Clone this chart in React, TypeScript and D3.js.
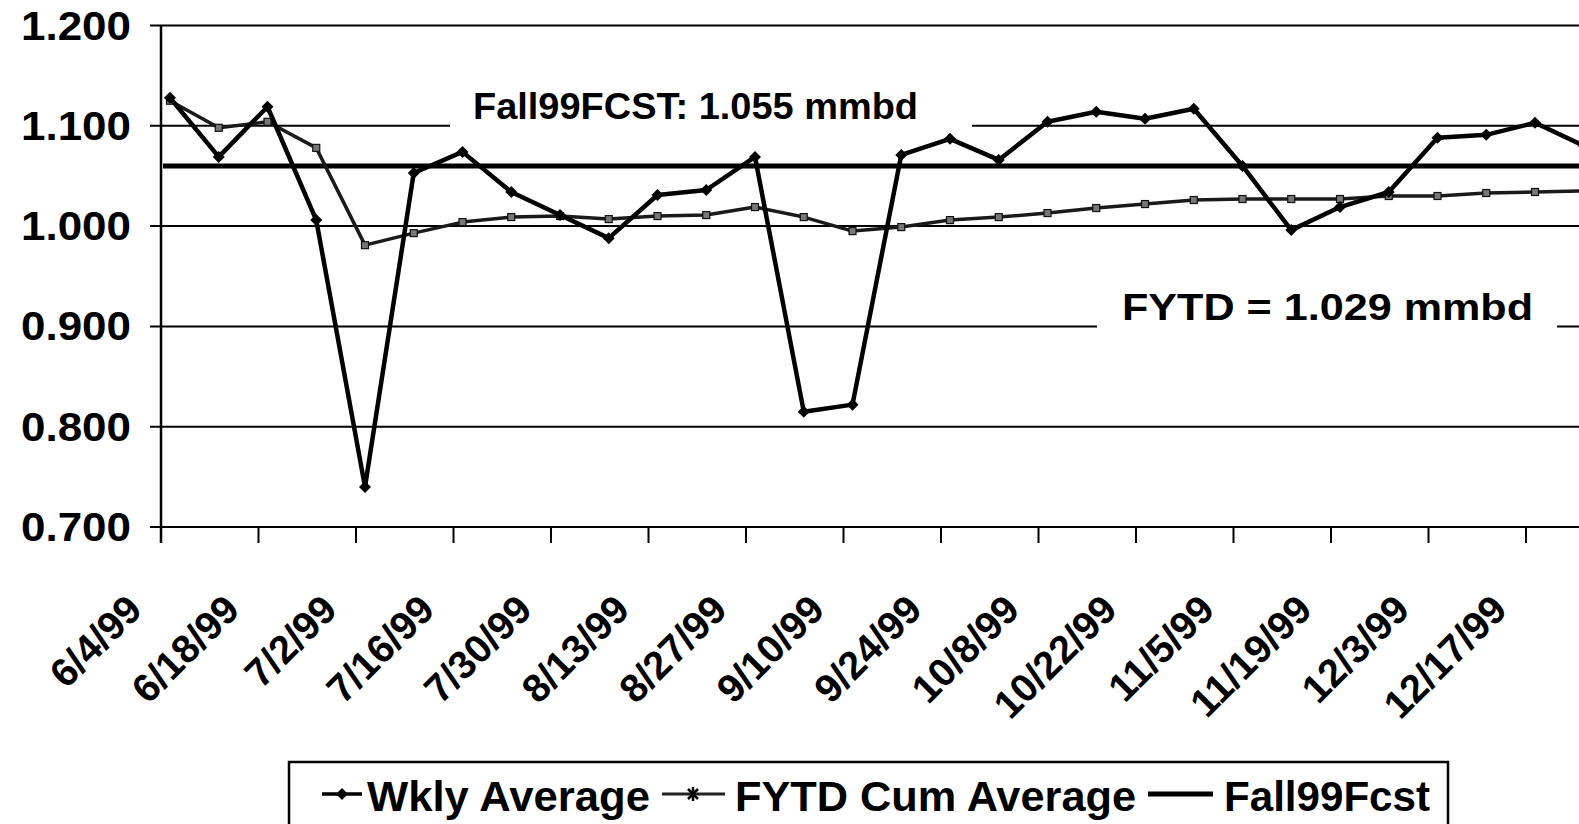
import React from "react";
import * as d3 from "d3";

const weeks = [
  "6/4/99", "6/11/99", "6/18/99", "6/25/99", "7/2/99", "7/9/99", "7/16/99", "7/23/99",
  "7/30/99", "8/6/99", "8/13/99", "8/20/99", "8/27/99", "9/3/99", "9/10/99", "9/17/99",
  "9/24/99", "10/1/99", "10/8/99", "10/15/99", "10/22/99", "10/29/99", "11/5/99", "11/12/99",
  "11/19/99", "11/26/99", "12/3/99", "12/10/99", "12/17/99", "12/24/99",
];
const tickLabels = weeks.filter((_, i) => i % 2 === 0);

const wklyAverage = [
  1.128, 1.069, 1.119, 1.006, 0.740, 1.053, 1.074, 1.034,
  1.011, 0.988, 1.031, 1.036, 1.069, 0.815, 0.822, 1.071,
  1.087, 1.066, 1.104, 1.114, 1.107, 1.117, 1.060, 0.996,
  1.019, 1.034, 1.088, 1.091, 1.103, 1.080,
];
const fytdCumAverage = [
  1.125, 1.098, 1.104, 1.078, 0.981, 0.993, 1.004, 1.009,
  1.010, 1.007, 1.010, 1.011, 1.019, 1.009, 0.995, 0.999,
  1.006, 1.009, 1.013, 1.018, 1.022, 1.026, 1.027, 1.027,
  1.027, 1.030, 1.030, 1.033, 1.034, 1.035,
];
const fall99Fcst = 1.06;
const yTicks = [0.7, 0.8, 0.9, 1.0, 1.1, 1.2];
const legendItems = ["Wkly Average", "FYTD Cum Average", "Fall99Fcst"];
const noteFcst = "Fall99FCST: 1.055 mmbd";
const noteFytd = "FYTD = 1.029 mmbd";

const FONT = "'Liberation Sans', Arial, Helvetica, sans-serif";

export default function App() {
  const W = 1579;
  const H = 824;
  const x = d3.scalePoint<string>().domain(weeks).range([170, 170 + 29 * 48.75]);
  const y = d3.scaleLinear().domain([0.7, 1.2]).range([527, 25.5]);
  const axisX = 161;
  const tickShift = -9;
  const fmt = d3.format(".3f");

  const line = d3
    .line<number>()
    .x((_, i) => x(weeks[i]) as number)
    .y((d) => y(d));

  const diamond = (cx: number, cy: number, r: number) =>
    `M${cx},${cy - r}L${cx + r},${cy}L${cx},${cy + r}L${cx - r},${cy}Z`;

  return (
    <svg
      width={W}
      height={H}
      style={{ position: "absolute", left: 0, top: 0, background: "#fff" }}
      fontFamily={FONT}
    >
      <rect x={0} y={0} width={W} height={H} fill="#fff" />
      {/* gridlines */}
      {yTicks.map((t) => (
        <g key={t}>
          <line x1={150} x2={W} y1={y(t)} y2={y(t)} stroke="#000" strokeWidth={2} />
          <text
            x={131}
            y={y(t) + 14}
            textAnchor="end"
            fontSize={40}
            fontWeight="bold"
            textLength={110}
            lengthAdjust="spacingAndGlyphs"
          >
            {fmt(t)}
          </text>
        </g>
      ))}
      {/* y axis */}
      <line x1={axisX} x2={axisX} y1={y(1.2)} y2={543} stroke="#000" strokeWidth={2.5} />
      {/* x axis ticks */}
      {tickLabels.map((d) => {
        const tx = (x(d) as number) + tickShift;
        return (
          <g key={d}>
            <line x1={tx} x2={tx} y1={y(0.7)} y2={543} stroke="#000" strokeWidth={2} />
            <text
              transform={`translate(${tx - 17},${612}) rotate(-45)`}
              textAnchor="end"
              fontSize={39.5}
              fontWeight="bold"
            >
              {d}
            </text>
          </g>
        );
      })}
      {/* annotation boxes */}
      <rect x={450} y={84} width={522} height={50} fill="#fff" />
      <rect x={1097} y={283} width={460} height={55} fill="#fff" />
      <text x={473} y={119} fontSize={36} fontWeight="bold" textLength={445} lengthAdjust="spacingAndGlyphs">
        {noteFcst}
      </text>
      <text x={1122} y={320} fontSize={36} fontWeight="bold" textLength={411} lengthAdjust="spacingAndGlyphs">
        {noteFytd}
      </text>
      {/* Fall99 forecast */}
      <line x1={axisX + 2} x2={W} y1={y(fall99Fcst)} y2={y(fall99Fcst)} stroke="#000" strokeWidth={5} />
      {/* FYTD cumulative */}
      <path d={line(fytdCumAverage) || ""} fill="none" stroke="#1a1a1a" strokeWidth={3.5} strokeLinejoin="round" />
      {fytdCumAverage.map((v, i) => (
        <rect
          key={i}
          x={(x(weeks[i]) as number) - 3.5}
          y={y(v) - 3.5}
          width={7}
          height={7}
          fill="#777"
          stroke="#111"
          strokeWidth={1.2}
        />
      ))}
      {/* Weekly */}
      <path d={line(wklyAverage) || ""} fill="none" stroke="#000" strokeWidth={4.5} strokeLinejoin="round" />
      {wklyAverage.map((v, i) => (
        <path key={i} d={diamond(x(weeks[i]) as number, y(v), 6)} fill="#000" />
      ))}
      {/* Legend */}
      <rect x={289} y={762} width={1159} height={90} fill="#fff" stroke="#000" strokeWidth={2.5} />
      <g>
        <line x1={322} x2={362} y1={794} y2={794} stroke="#000" strokeWidth={3.5} />
        <path d={diamond(342, 794, 6)} fill="#000" />
        <text x={367} y={811} fontSize={42} fontWeight="bold" textLength={283} lengthAdjust="spacingAndGlyphs">
          {legendItems[0]}
        </text>
        <line x1={662} x2={725} y1={794} y2={794} stroke="#222" strokeWidth={3} />
        <path d="M688,789L698,799M698,789L688,799M693,787L693,801" stroke="#000" strokeWidth={2.5} />
        <text x={735} y={811} fontSize={42} fontWeight="bold" textLength={401} lengthAdjust="spacingAndGlyphs">
          {legendItems[1]}
        </text>
        <line x1={1148} x2={1213} y1={794} y2={794} stroke="#000" strokeWidth={5} />
        <text x={1224} y={811} fontSize={42} fontWeight="bold" textLength={206} lengthAdjust="spacingAndGlyphs">
          {legendItems[2]}
        </text>
      </g>
    </svg>
  );
}
